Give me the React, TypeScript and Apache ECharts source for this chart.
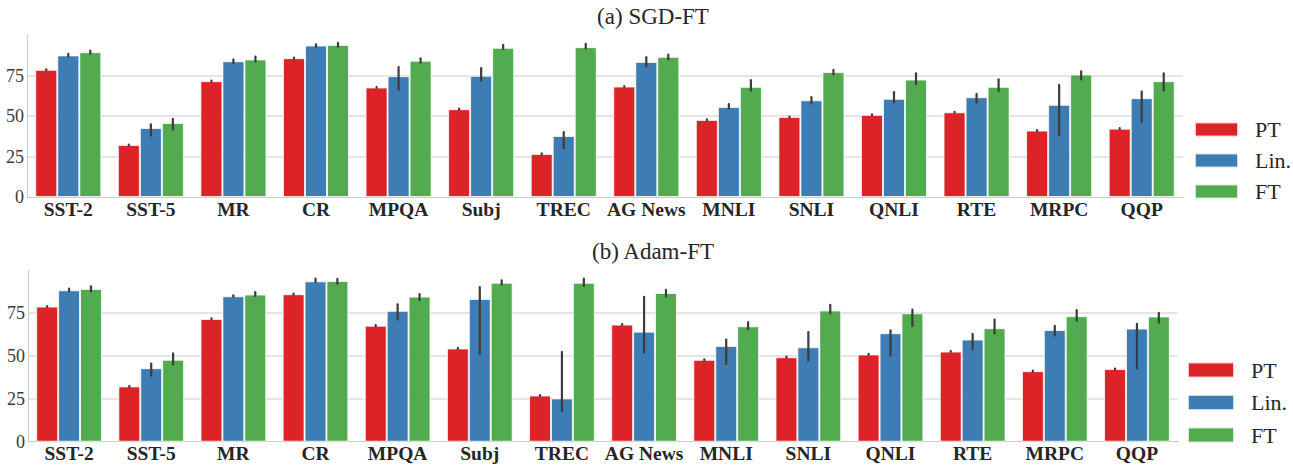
import React, { useEffect, useRef } from "react";
import * as echarts from "echarts";

const categories = ["SST-2", "SST-5", "MR", "CR", "MPQA", "Subj", "TREC", "AG News", "MNLI", "SNLI", "QNLI", "RTE", "MRPC", "QQP"];
const seriesNames = ["PT", "Lin.", "FT"];
const colors = ["#dc2327", "#3d7db4", "#52ab4f"];
const panelTitles = ["(a) SGD-FT", "(b) Adam-FT"];

// (a) SGD-FT
const sgdPT = [78.5, 32.1, 71.5, 85.7, 67.6, 54.2, 26.6, 68.2, 47.6, 49.4, 50.7, 52.3, 41.0, 42.2];
const sgdLin = [87.4, 42.6, 83.8, 93.5, 74.6, 74.8, 37.7, 83.4, 55.6, 59.7, 60.6, 61.6, 56.9, 61.0];
const sgdFT = [89.4, 45.7, 84.9, 93.9, 84.1, 92.1, 92.5, 86.5, 68.0, 77.1, 72.5, 68.0, 75.6, 71.5];
const sgdPTErr = [[78.2, 78.8], [31.8, 32.4], [71.2, 71.8], [85.4, 86.0], [67.3, 67.9], [53.9, 54.5], [26.3, 26.9], [67.9, 68.5], [47.3, 47.9], [49.1, 49.7], [50.4, 51.0], [52.0, 52.6], [40.7, 41.3], [41.9, 42.5]];
const sgdLinErr = [[86.8, 88.3], [37.9, 44.9], [82.6, 84.9], [92.7, 94.2], [66.1, 80.2], [71.7, 79.5], [30.1, 40.0], [80.5, 86.3], [54.6, 57.4], [57.7, 61.6], [58.3, 64.7], [58.3, 63.7], [38.3, 69.2], [46.4, 65.1]];
const sgdFTErr = [[88.4, 90.3], [41.6, 48.2], [83.5, 86.6], [92.8, 95.2], [82.9, 85.6], [91.3, 93.9], [91.7, 94.6], [84.9, 87.9], [65.7, 72.1], [75.6, 78.5], [69.6, 76.4], [65.5, 72.7], [72.5, 77.5], [65.7, 76.4]];

// (b) Adam-FT
const adamPT = [78.7, 32.2, 71.5, 85.9, 67.6, 54.3, 26.9, 68.2, 47.7, 49.2, 50.8, 52.5, 41.1, 42.3];
const adamLin = [88.2, 42.8, 84.7, 93.4, 76.2, 83.1, 25.2, 64.1, 55.8, 55.0, 63.2, 59.5, 65.1, 65.9];
const adamFT = [89.0, 47.7, 85.7, 93.6, 84.5, 92.6, 92.6, 86.6, 67.2, 76.4, 74.8, 66.1, 73.1, 72.9];
const adamPTErr = [[78.4, 79.0], [31.9, 32.5], [71.2, 71.8], [85.6, 86.2], [67.3, 67.9], [54.0, 54.6], [26.6, 27.2], [67.9, 68.5], [47.4, 48.0], [48.9, 49.5], [50.5, 51.1], [52.2, 52.8], [40.8, 41.4], [42.0, 42.6]];
const adamLinErr = [[87.6, 89.2], [38.4, 45.5], [84.3, 85.3], [92.8, 95.0], [71.1, 80.0], [51.0, 90.1], [18.0, 52.3], [51.9, 84.3], [45.3, 59.5], [47.3, 63.8], [50.0, 64.9], [53.7, 62.8], [61.9, 67.5], [42.6, 68.6]];
const adamFTErr = [[87.6, 90.5], [45.0, 51.4], [84.8, 87.1], [92.0, 94.9], [82.4, 85.9], [91.5, 93.9], [90.7, 95.0], [84.5, 88.4], [65.7, 69.6], [74.6, 79.7], [67.4, 76.9], [63.0, 71.1], [70.5, 76.6], [69.4, 75.0]];

const panels = [
  { values: [sgdPT, sgdLin, sgdFT], errs: [sgdPTErr, sgdLinErr, sgdFTErr] },
  { values: [adamPT, adamLin, adamFT], errs: [adamPTErr, adamLinErr, adamFTErr] },
];

const SERIF = "Liberation Serif";

export default function App() {
  const ref = useRef<HTMLDivElement>(null);
  useEffect(() => {
    if (!ref.current) return;
    const chart = echarts.init(ref.current, null, { renderer: "svg" });

    const grids = [
      { left: 27, right: 110, top: 35, height: 162 },
      { left: 28, right: 115, top: 270, height: 171.7 },
    ];

    const xAxes = grids.map((_, i) => ({
      type: "category",
      gridIndex: i,
      data: categories,
      axisLine: { lineStyle: { color: "#cccccc", width: 1.2 } },
      axisTick: { show: false },
      axisLabel: {
        interval: 0,
        margin: 2,
        fontFamily: SERIF,
        fontWeight: "bold",
        fontSize: 19.5,
        color: "#262626",
      },
    }));

    const yAxes = grids.map((_, i) => ({
      type: "value",
      gridIndex: i,
      min: 0,
      max: 100,
      interval: 25,
      axisLine: { show: true, lineStyle: { color: "#cccccc", width: 1.2 } },
      axisTick: { show: false },
      axisLabel: {
        margin: 3,
        fontFamily: SERIF,
        fontSize: 18,
        color: "#3a3a3a",
        showMaxLabel: false,
      },
      splitLine: { show: true, showMinLine: false, showMaxLine: false, lineStyle: { color: "#dddddd", width: 1.5 } },
    }));

    const series: any[] = [];
    panels.forEach((p, pi) => {
      p.values.forEach((vals, si) => {
        series.push({
          type: "bar",
          name: seriesNames[si],
          xAxisIndex: pi,
          yAxisIndex: pi,
          data: vals,
          barGap: "0%",
          barCategoryGap: "20%",
          itemStyle: { color: colors[si], borderColor: "rgba(255,255,255,0.75)", borderWidth: 1 },
          emphasis: { disabled: true },
        });
      });
      p.errs.forEach((errs, si) => {
        series.push({
          type: "custom",
          name: seriesNames[si] + " err",
          xAxisIndex: pi,
          yAxisIndex: pi,
          silent: true,
          z: 10,
          data: errs.map((e, i) => [i, e[0], e[1]]),
          encode: { x: 0, y: [1, 2] },
          renderItem: (params: any, api: any) => {
            const c = api.value(0);
            const lo = api.coord([c, api.value(1)]);
            const hi = api.coord([c, api.value(2)]);
            const bw = (api.size([1, 0])[0] * 0.8) / 3;
            const x = lo[0] + (si - 1) * bw;
            return {
              type: "line",
              shape: { x1: x, y1: lo[1], x2: x, y2: hi[1] },
              style: { stroke: "#3c3c3c", lineWidth: 2.2, lineCap: "round" },
            };
          },
        });
      });
    });

    const legendBase = {
      orient: "vertical",
      icon: "rect",
      data: seriesNames,
      padding: 0,
      selectedMode: false,
      textStyle: { fontFamily: SERIF, fontSize: 22, color: "#262626", lineHeight: 22, padding: [0, 0, 0, 12] },
    };

    chart.setOption({
      animation: false,
      backgroundColor: "#ffffff",
      grid: grids,
      xAxis: xAxes,
      yAxis: yAxes,
      legend: [
        { ...legendBase, left: 1194, top: 118.5, itemWidth: 43, itemHeight: 14, itemGap: 9 },
        { ...legendBase, left: 1187, top: 359, itemWidth: 46, itemHeight: 15, itemGap: 10.5 },
      ],
      graphic: [
        { type: "text", x: 653, y: 16, style: { text: panelTitles[0], fontFamily: SERIF, fontSize: 23, fill: "#262626", textAlign: "center", textVerticalAlign: "middle" } },
        { type: "text", x: 653, y: 251, style: { text: panelTitles[1], fontFamily: SERIF, fontSize: 23, fill: "#262626", textAlign: "center", textVerticalAlign: "middle" } },
      ],
      series,
    });

    return () => chart.dispose();
  }, []);

  return <div ref={ref} style={{ position: "fixed", left: 0, top: 0, width: 1293, height: 465 }} />;
}
